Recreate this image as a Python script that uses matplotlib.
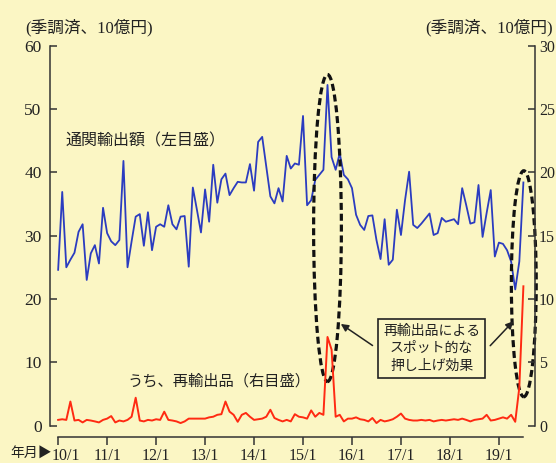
import matplotlib.pyplot as plt
from matplotlib.patches import Ellipse
from matplotlib.transforms import ScaledTranslation

plt.rcParams["font.family"] = ["Liberation Serif", "Noto Sans CJK JP", "DejaVu Sans"]

# 通関輸出額（左目盛, 10億円） 2010/1 - 2019/7
exports = [
    24.6, 36.9, 25.0, 26.2, 27.3, 30.6, 31.8, 23.0, 27.2, 28.5, 25.6, 34.4,
    30.4, 29.1, 28.5, 29.3, 41.8, 25.0, 29.1, 33.0, 33.4, 28.4, 33.7, 27.7,
    31.4, 31.8, 31.4, 34.8, 31.8, 31.0, 33.0, 33.1, 25.1, 37.6, 34.1, 30.5,
    37.3, 32.2, 41.2, 35.2, 38.9, 39.8, 36.4, 37.5, 38.5, 38.4, 38.4, 41.3,
    37.1, 44.8, 45.6, 40.9, 36.2, 35.1, 37.5, 35.4, 42.6, 40.6, 41.4, 41.2,
    48.9, 34.8, 35.6, 38.8, 39.6, 40.4, 53.8, 42.4, 40.4, 43.0, 39.6, 38.9,
    37.5, 33.3, 31.7, 30.9, 33.1, 33.2, 29.3, 26.3, 32.6, 25.4, 26.2, 34.1,
    30.1, 35.6, 40.1, 31.7, 31.2, 31.9, 32.7, 33.5, 30.1, 30.4, 32.8, 32.2,
    32.4, 32.6, 31.8, 37.5, 34.8, 31.9, 32.1, 38.0, 29.8, 33.6, 37.2, 26.7,
    28.9, 28.7, 27.7, 25.9, 21.5, 25.9, 38.4,
]
# うち、再輸出品（右目盛, 10億円）
reexports = [
    0.45, 0.50, 0.45, 1.90, 0.40, 0.45, 0.25, 0.45, 0.40, 0.33, 0.25, 0.45,
    0.55, 0.75, 0.25, 0.40, 0.33, 0.45, 0.70, 2.20, 0.40, 0.33, 0.45, 0.40,
    0.50, 0.45, 1.10, 0.45, 0.40, 0.33, 0.20, 0.33, 0.55, 0.55, 0.55, 0.55,
    0.55, 0.65, 0.70, 0.85, 0.90, 1.90, 1.10, 0.85, 0.30, 0.85, 1.00, 0.70,
    0.45, 0.50, 0.55, 0.70, 1.25, 0.60, 0.45, 0.33, 0.45, 0.33, 0.90, 0.70,
    0.65, 0.55, 1.20, 0.70, 1.00, 0.85, 7.00, 6.00, 0.70, 0.85, 0.33, 0.55,
    0.55, 0.65, 0.50, 0.45, 0.33, 0.60, 0.20, 0.45, 0.33, 0.40, 0.50, 0.70,
    0.95, 0.55, 0.45, 0.40, 0.40, 0.45, 0.40, 0.45, 0.33, 0.40, 0.45, 0.40,
    0.45, 0.50, 0.45, 0.55, 0.45, 0.33, 0.45, 0.50, 0.55, 0.85, 0.40, 0.45,
    0.55, 0.65, 0.55, 0.85, 0.30, 3.00, 11.0,
]
year_ticks = [0, 12, 24, 36, 48, 60, 72, 84, 96, 108]
year_labels = ["10/1", "11/1", "12/1", "13/1", "14/1", "15/1", "16/1", "17/1", "18/1", "19/1"]

bg = "#FBF6C4"
ink = "#333333"
cjk = ["Noto Sans CJK JP", "DejaVu Sans"]

fig = plt.figure(figsize=(5.56, 4.63), dpi=100, facecolor=bg)
ax = fig.add_axes([0.0899, 0.0808, 0.872, 0.8205])
ax.set_facecolor(bg)
ax2 = ax.twinx()

months = list(range(len(exports)))
ax.plot(months, exports, color="#2B3CC0", lw=1.3, zorder=3)
ax2.plot(months, reexports, color="#FF2A12", lw=1.4, zorder=3)

ax.set_xlim(-2, 116.8)
ax.set_ylim(0, 60)
ax2.set_ylim(0, 30)
ax.set_yticks(range(0, 61, 10))
ax2.set_yticks(range(0, 31, 5))
ax.set_xticks(year_ticks)
ax.set_xticklabels(year_labels)

for a in (ax, ax2):
    a.spines["top"].set_visible(False)
    for s in a.spines.values():
        s.set_color(ink)
        s.set_linewidth(1.1)
ax.spines["right"].set_visible(False)
ax2.spines["left"].set_visible(False)
ax2.spines["bottom"].set_visible(False)
ax.spines["bottom"].set_position(("outward", 8))
ax.spines["bottom"].set_bounds(0, 114)

ax.tick_params(axis="y", direction="in", length=5, width=1.1, color=ink,
               labelsize=12.5, pad=6, labelcolor="#222222")
ax2.tick_params(axis="y", direction="in", length=5, width=1.1, color=ink,
                labelsize=11.5, pad=3, labelcolor="#222222")
ax.tick_params(axis="x", direction="out", length=6, width=1.1, color=ink,
               labelsize=11.5, pad=2, labelcolor="#222222")

# first x label sits a little right of its tick, clear of "年月▶"
first = ax.get_xticklabels()[0]
first.set_transform(first.get_transform() + ScaledTranslation(0.08, 0, fig.dpi_scale_trans))

# series labels
ax.text(1.8, 44.9, "通関輸出額（左目盛）", fontsize=11.5, family=cjk,
        va="center", ha="left", color="#222222")
ax.text(17, 7.0, "うち、再輸出品（右目盛）", fontsize=11, family=cjk,
        va="center", ha="left", color="#222222")

# dashed ellipses around spikes
for cx, cy, w, h in [(66.0, 31.2, 6.8, 48.5), (114.1, 22.4, 6.1, 35.7)]:
    ax.add_patch(Ellipse((cx, cy), w, h, fill=False, ls=(0, (2.2, 1.2)),
                         lw=2.3, ec="#111111", zorder=5, clip_on=False))

# annotation box + arrows
ax.text(91.5, 12.2, "再輸出品による\nスポット的な\n押し上げ効果", fontsize=10,
        family=cjk, ha="center", va="center", linespacing=1.35, color="#222222",
        zorder=6,
        bbox=dict(boxstyle="square,pad=0.35", fc=bg, ec="#222222", lw=1.2))
arrow = dict(arrowstyle="-|>", color="#222222", lw=1.1, mutation_scale=11)
ax.annotate("", xy=(68.7, 16.3), xytext=(77.6, 12.4), arrowprops=arrow, zorder=6)
ax.annotate("", xy=(112.0, 16.8), xytext=(105.4, 12.3), arrowprops=arrow, zorder=6)

# unit labels and x-axis caption
fig.text(25 / 556, 1 - 28 / 463, "(季調済、10億円)", fontsize=12,
         ha="left", va="center", color="#222222")
fig.text(553 / 556, 1 - 28 / 463, "(季調済、10億円)", fontsize=12,
         ha="right", va="center", color="#222222")
fig.text(10 / 556, 1 - 454 / 463, "年月▶", fontsize=10, family=cjk,
         ha="left", va="center", color="#222222")

fig.savefig("out.png", dpi=100, facecolor=bg)
